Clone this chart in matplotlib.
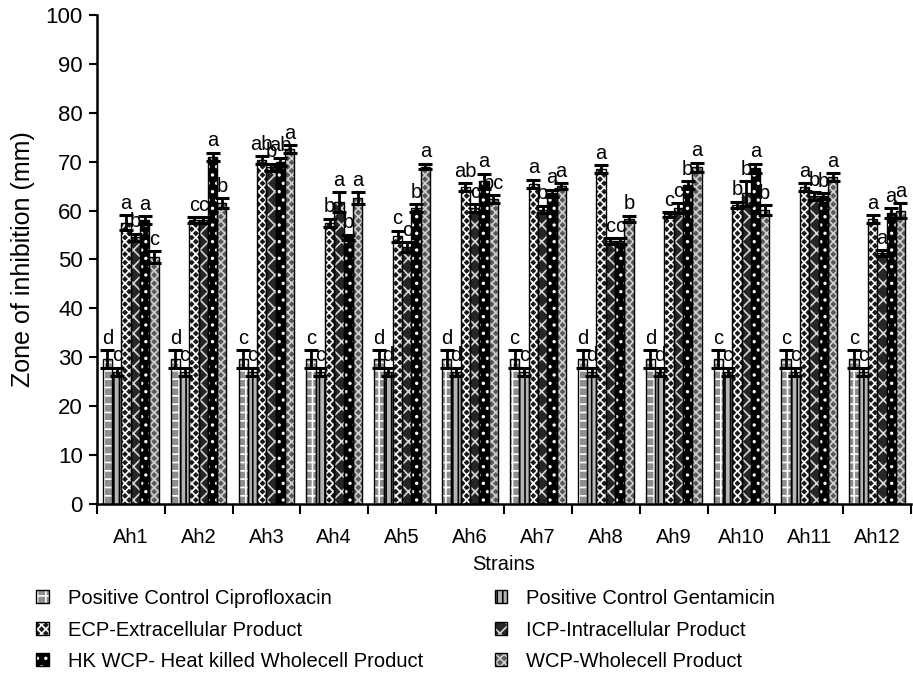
import matplotlib
matplotlib.use("Agg")
import matplotlib.pyplot as plt
import numpy as np
from matplotlib.patches import Patch

plt.rcParams["font.family"] = ["Liberation Sans", "DejaVu Sans"]
plt.rcParams["hatch.linewidth"] = 1.2

strains = ["Ah1", "Ah2", "Ah3", "Ah4", "Ah5", "Ah6",
           "Ah7", "Ah8", "Ah9", "Ah10", "Ah11", "Ah12"]

series_names = [
    "Positive Control Ciprofloxacin",
    "Positive Control Gentamicin",
    "ECP-Extracellular Product",
    "ICP-Intracellular Product",
    "HK WCP- Heat killed Wholecell Product",
    "WCP-Wholecell Product",
]

cipro = [29.7] * 12
cipro_err = [1.8] * 12
genta = [27.0] * 12
genta_err = [0.9] * 12
ecp = [57.5, 58.0, 70.3, 57.5, 54.7, 64.8, 65.5, 68.5, 59.2, 61.2, 64.8, 58.3]
ecp_err = [1.5, 0.6, 0.8, 0.8, 1.2, 0.8, 0.8, 0.8, 0.5, 0.6, 0.8, 0.8]
icp = [54.5, 58.0, 68.8, 61.8, 52.5, 60.5, 60.2, 53.8, 60.5, 63.5, 63.0, 51.3]
icp_err = [0.8, 0.6, 0.8, 2.0, 1.0, 0.8, 0.8, 0.6, 1.0, 2.5, 0.8, 0.6]
hk = [58.0, 71.0, 70.0, 54.5, 60.5, 66.0, 63.5, 53.8, 65.2, 68.6, 62.9, 59.5]
hk_err = [0.8, 0.8, 0.8, 0.6, 0.8, 1.5, 0.8, 0.6, 0.8, 1.0, 0.6, 1.0]
wcp = [50.5, 61.5, 72.6, 62.5, 69.0, 62.3, 65.0, 58.3, 68.8, 60.1, 66.8, 60.0]
wcp_err = [1.2, 1.0, 0.8, 1.2, 0.6, 0.8, 0.6, 0.6, 1.0, 1.0, 0.8, 1.5]

letters = [
    ["d", "d", "c", "c", "d", "d", "c", "d", "d", "c", "c", "c"],
    ["c", "c", "c", "c", "d", "d", "c", "d", "d", "c", "c", "c"],
    ["a", "c", "ab", "b", "c", "ab", "a", "a", "c", "b", "a", "a"],
    ["b", "c", "b", "a", "c", "c", "b", "c", "c", "b", "b", "a"],
    ["a", "a", "ab", "b", "b", "a", "a", "c", "b", "a", "b", "a"],
    ["c", "b", "a", "a", "a", "bc", "a", "b", "a", "b", "a", "a"],
]

values = [cipro, genta, ecp, icp, hk, wcp]
errors = [cipro_err, genta_err, ecp_err, icp_err, hk_err, wcp_err]

# face colour, hatch pattern, hatch colour for each series
styles = [
    ("#8e8e8e", "++", "#ffffff"),
    ("#b4b4b4", "|||", "#000000"),
    ("#1a1a1a", "xxxx", "#ffffff"),
    ("#262626", "xx", "#d8d8d8"),
    ("#000000", "..", "#ffffff"),
    ("#5a5a5a", "xxxx", "#d0d0d0"),
]

FS = 14.5

fig = plt.figure(figsize=(9.13, 6.74), dpi=100)
ax = fig.add_axes([0.106, 0.252, 0.892, 0.726])

x = np.arange(len(strains))
bw = 0.137
offsets = (np.arange(6) - 2.5) * bw

for i in range(6):
    face, hatch, hcol = styles[i]
    xs = x + offsets[i]
    ax.bar(xs, values[i], width=bw, color=face, edgecolor=hcol,
           hatch=hatch, linewidth=0, zorder=2)
    ax.bar(xs, values[i], width=bw, fill=False, edgecolor="black",
           linewidth=1.0, zorder=3)
    ax.errorbar(xs, values[i], yerr=errors[i], fmt="none", ecolor="black",
                elinewidth=2, capsize=5, capthick=2.2, zorder=4)
    for xi, v, e, t in zip(xs, values[i], errors[i], letters[i]):
        ax.text(xi, v + e + 0.5, t, ha="center", va="bottom",
                fontsize=FS, zorder=5)

ax.set_xlim(-0.5, 11.5)
ax.set_ylim(0, 100)
ax.set_yticks(np.arange(0, 101, 10))
ax.set_xticks(np.arange(-0.5, 11.6, 1.0))
ax.set_xticklabels([])
ax.set_xticks(x, minor=True)
ax.set_xticklabels(strains, minor=True)
ax.tick_params(axis="x", which="major", length=7, width=1.5, direction="out")
ax.tick_params(axis="x", which="minor", length=0, pad=17, labelsize=FS)
ax.tick_params(axis="y", length=6, width=1.5, direction="out",
               labelsize=16, pad=4)

for s in ["top", "right"]:
    ax.spines[s].set_visible(False)
for s in ["left", "bottom"]:
    ax.spines[s].set_linewidth(1.8)

ax.set_ylabel("Zone of inhibition (mm)", fontsize=18, labelpad=8)
ax.set_xlabel("Strains", fontsize=FS, labelpad=6)

handles = []
for i in range(6):
    face, hatch, hcol = styles[i]
    fillp = Patch(facecolor=face, edgecolor=hcol, hatch=hatch, linewidth=0)
    edgep = Patch(facecolor="none", edgecolor="black", linewidth=1.0)
    handles.append((fillp, edgep))
order = [0, 2, 4, 1, 3, 5]
fig.legend([handles[k] for k in order], [series_names[k] for k in order],
           ncol=2, loc="upper left", bbox_to_anchor=(0.031, 0.138),
           frameon=False, fontsize=FS, handlelength=0.62,
           handleheight=0.62, handletextpad=0.95, columnspacing=3.55,
           labelspacing=0.62, borderaxespad=0)

fig.savefig("out.png", dpi=100)
